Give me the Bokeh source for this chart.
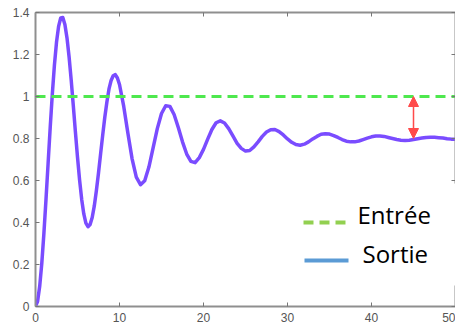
import numpy as np
from bokeh.plotting import figure
from bokeh.models import (Range1d, LinearAxis, FixedTicker, Arrow, NormalHead,
                          BoxAnnotation, Label)
from bokeh.embed import file_html
from bokeh.resources import INLINE

# ---- data ----
t = np.concatenate([np.arange(0, 10, 0.25), np.arange(10, 50.5, 0.5)])
sortie = [
    # t = 0 .. 9.75 (step 0.25)
    0.000, 0.025, 0.096, 0.206, 0.348, 0.510, 0.681, 0.852, 1.010, 1.148,
    1.258, 1.334, 1.374, 1.376, 1.343, 1.279, 1.188, 1.078, 0.957, 0.832,
    0.711, 0.602, 0.510, 0.441, 0.397, 0.380, 0.390, 0.424, 0.479, 0.552,
    0.636, 0.727, 0.816, 0.901, 0.974, 1.036, 1.076, 1.099, 1.104, 1.088,
    # t = 10 .. 50 (step 0.5)
    1.057, 0.954, 0.825, 0.703, 0.616, 0.580, 0.599, 0.664, 0.755, 0.847,
    0.919, 0.956, 0.953, 0.914, 0.852, 0.784, 0.726, 0.691, 0.685, 0.709,
    0.748, 0.797, 0.843, 0.875, 0.884, 0.874, 0.847, 0.812, 0.777, 0.753,
    0.740, 0.743, 0.760, 0.784, 0.810, 0.831, 0.842, 0.843, 0.833, 0.817,
    0.798, 0.782, 0.771, 0.768, 0.773, 0.784, 0.798, 0.810, 0.820, 0.823,
    0.821, 0.814, 0.805, 0.795, 0.787, 0.784, 0.784, 0.788, 0.795, 0.802,
    0.808, 0.812, 0.812, 0.810, 0.805, 0.800, 0.795, 0.792, 0.791, 0.792,
    0.795, 0.799, 0.802, 0.805, 0.806, 0.806, 0.804, 0.802, 0.799, 0.797,
    0.796,
]
entree_x = [0, 50]
entree_y = [1.0, 1.0]
erreur_x = 45
erreur_bas = 0.8
erreur_haut = 1.0

x_ticks = [0, 10, 20, 30, 40, 50]
y_ticks = [0, 0.2, 0.4, 0.6, 0.8, 1.0, 1.2, 1.4]
y_tick_labels = ["0", "0.2", "0.4", "0.6", "0.8", "1", "1.2", "1.4"]
legend_labels = ["Entrée", "Sortie"]

AXIS_COL = "#8f8f8f"
TICK_TXT = "#555555"

p = figure(frame_width=420, frame_height=294,
           x_range=Range1d(0, 50), y_range=Range1d(0, 1.4),
           output_backend="svg", toolbar_location=None,
           min_border_left=35, min_border_top=12, min_border_right=0,
           min_border_bottom=0, background_fill_color="white",
           border_fill_color="white")
p.xgrid.visible = False
p.ygrid.visible = False
p.outline_line_color = None

def style_axis(ax, ticks):
    ax.ticker = FixedTicker(ticks=ticks)
    ax.axis_line_color = AXIS_COL
    ax.axis_line_width = 2
    ax.major_tick_in = 4
    ax.major_tick_out = 0
    ax.major_tick_line_color = "#777777"
    ax.minor_tick_line_color = None
    ax.major_label_text_font = "Liberation Sans"
    ax.major_label_text_font_size = "12px"
    ax.major_label_text_color = TICK_TXT

xa = p.xaxis[0]
ya = p.yaxis[0]
style_axis(xa, x_ticks)
style_axis(ya, y_ticks)
xa.major_label_standoff = 6
ya.major_label_standoff = 6
ya.major_label_overrides = {v: s for v, s in zip(y_ticks, y_tick_labels)}

def frame_axis(ticks):
    # box side with inward tick marks only (no labels)
    ax = LinearAxis(ticker=FixedTicker(ticks=[], minor_ticks=ticks))
    ax.axis_line_color = AXIS_COL
    ax.axis_line_width = 2
    ax.minor_tick_in = 4
    ax.minor_tick_out = 0
    ax.minor_tick_line_color = "#777777"
    ax.major_tick_line_color = None
    ax.major_label_standoff = 0
    return ax

p.add_layout(frame_axis(x_ticks), "above")
p.add_layout(frame_axis(y_ticks), "right")

# output (purple) then input (dashed green) on top
p.line(t, sortie, line_color="#7a4cff", line_width=3.5, line_join="round")
p.line(entree_x, entree_y, line_color="#4ee84e", line_width=3, line_dash="10 6")

# error arrow
red = "#ff4a4a"
p.add_layout(Arrow(x_start=erreur_x, y_start=erreur_haut, x_end=erreur_x, y_end=erreur_bas,
                   line_color=red, line_width=1.5,
                   start=NormalHead(size=10, fill_color=red, line_color=red),
                   end=NormalHead(size=10, fill_color=red, line_color=red)))

# pasted legend box (screen units, relative to the plot frame)
p.add_layout(BoxAnnotation(left=260, right=440, bottom=21, top=123,
                           left_units="screen", right_units="screen",
                           bottom_units="screen", top_units="screen",
                           fill_color="white", fill_alpha=1.0, line_color=None))
p.add_layout(Arrow(x_start=268, y_start=84, x_end=312, y_end=84,
                   start_units="screen", end_units="screen", start=None, end=None,
                   line_color="#92d050", line_width=4, line_dash="10 6"))
p.add_layout(Arrow(x_start=269, y_start=46, x_end=313, y_end=46,
                   start_units="screen", end_units="screen", start=None, end=None,
                   line_color="#5b9bd5", line_width=4))
for txt, lx, ly in zip(legend_labels, [322, 327], [92, 53]):
    p.add_layout(Label(x=lx, y=ly, x_units="screen", y_units="screen", text=txt,
                       text_font="Open Sans", text_font_size="24px",
                       text_color="black", text_baseline="middle"))

open("out.html", "w").write(file_html(p, INLINE))
